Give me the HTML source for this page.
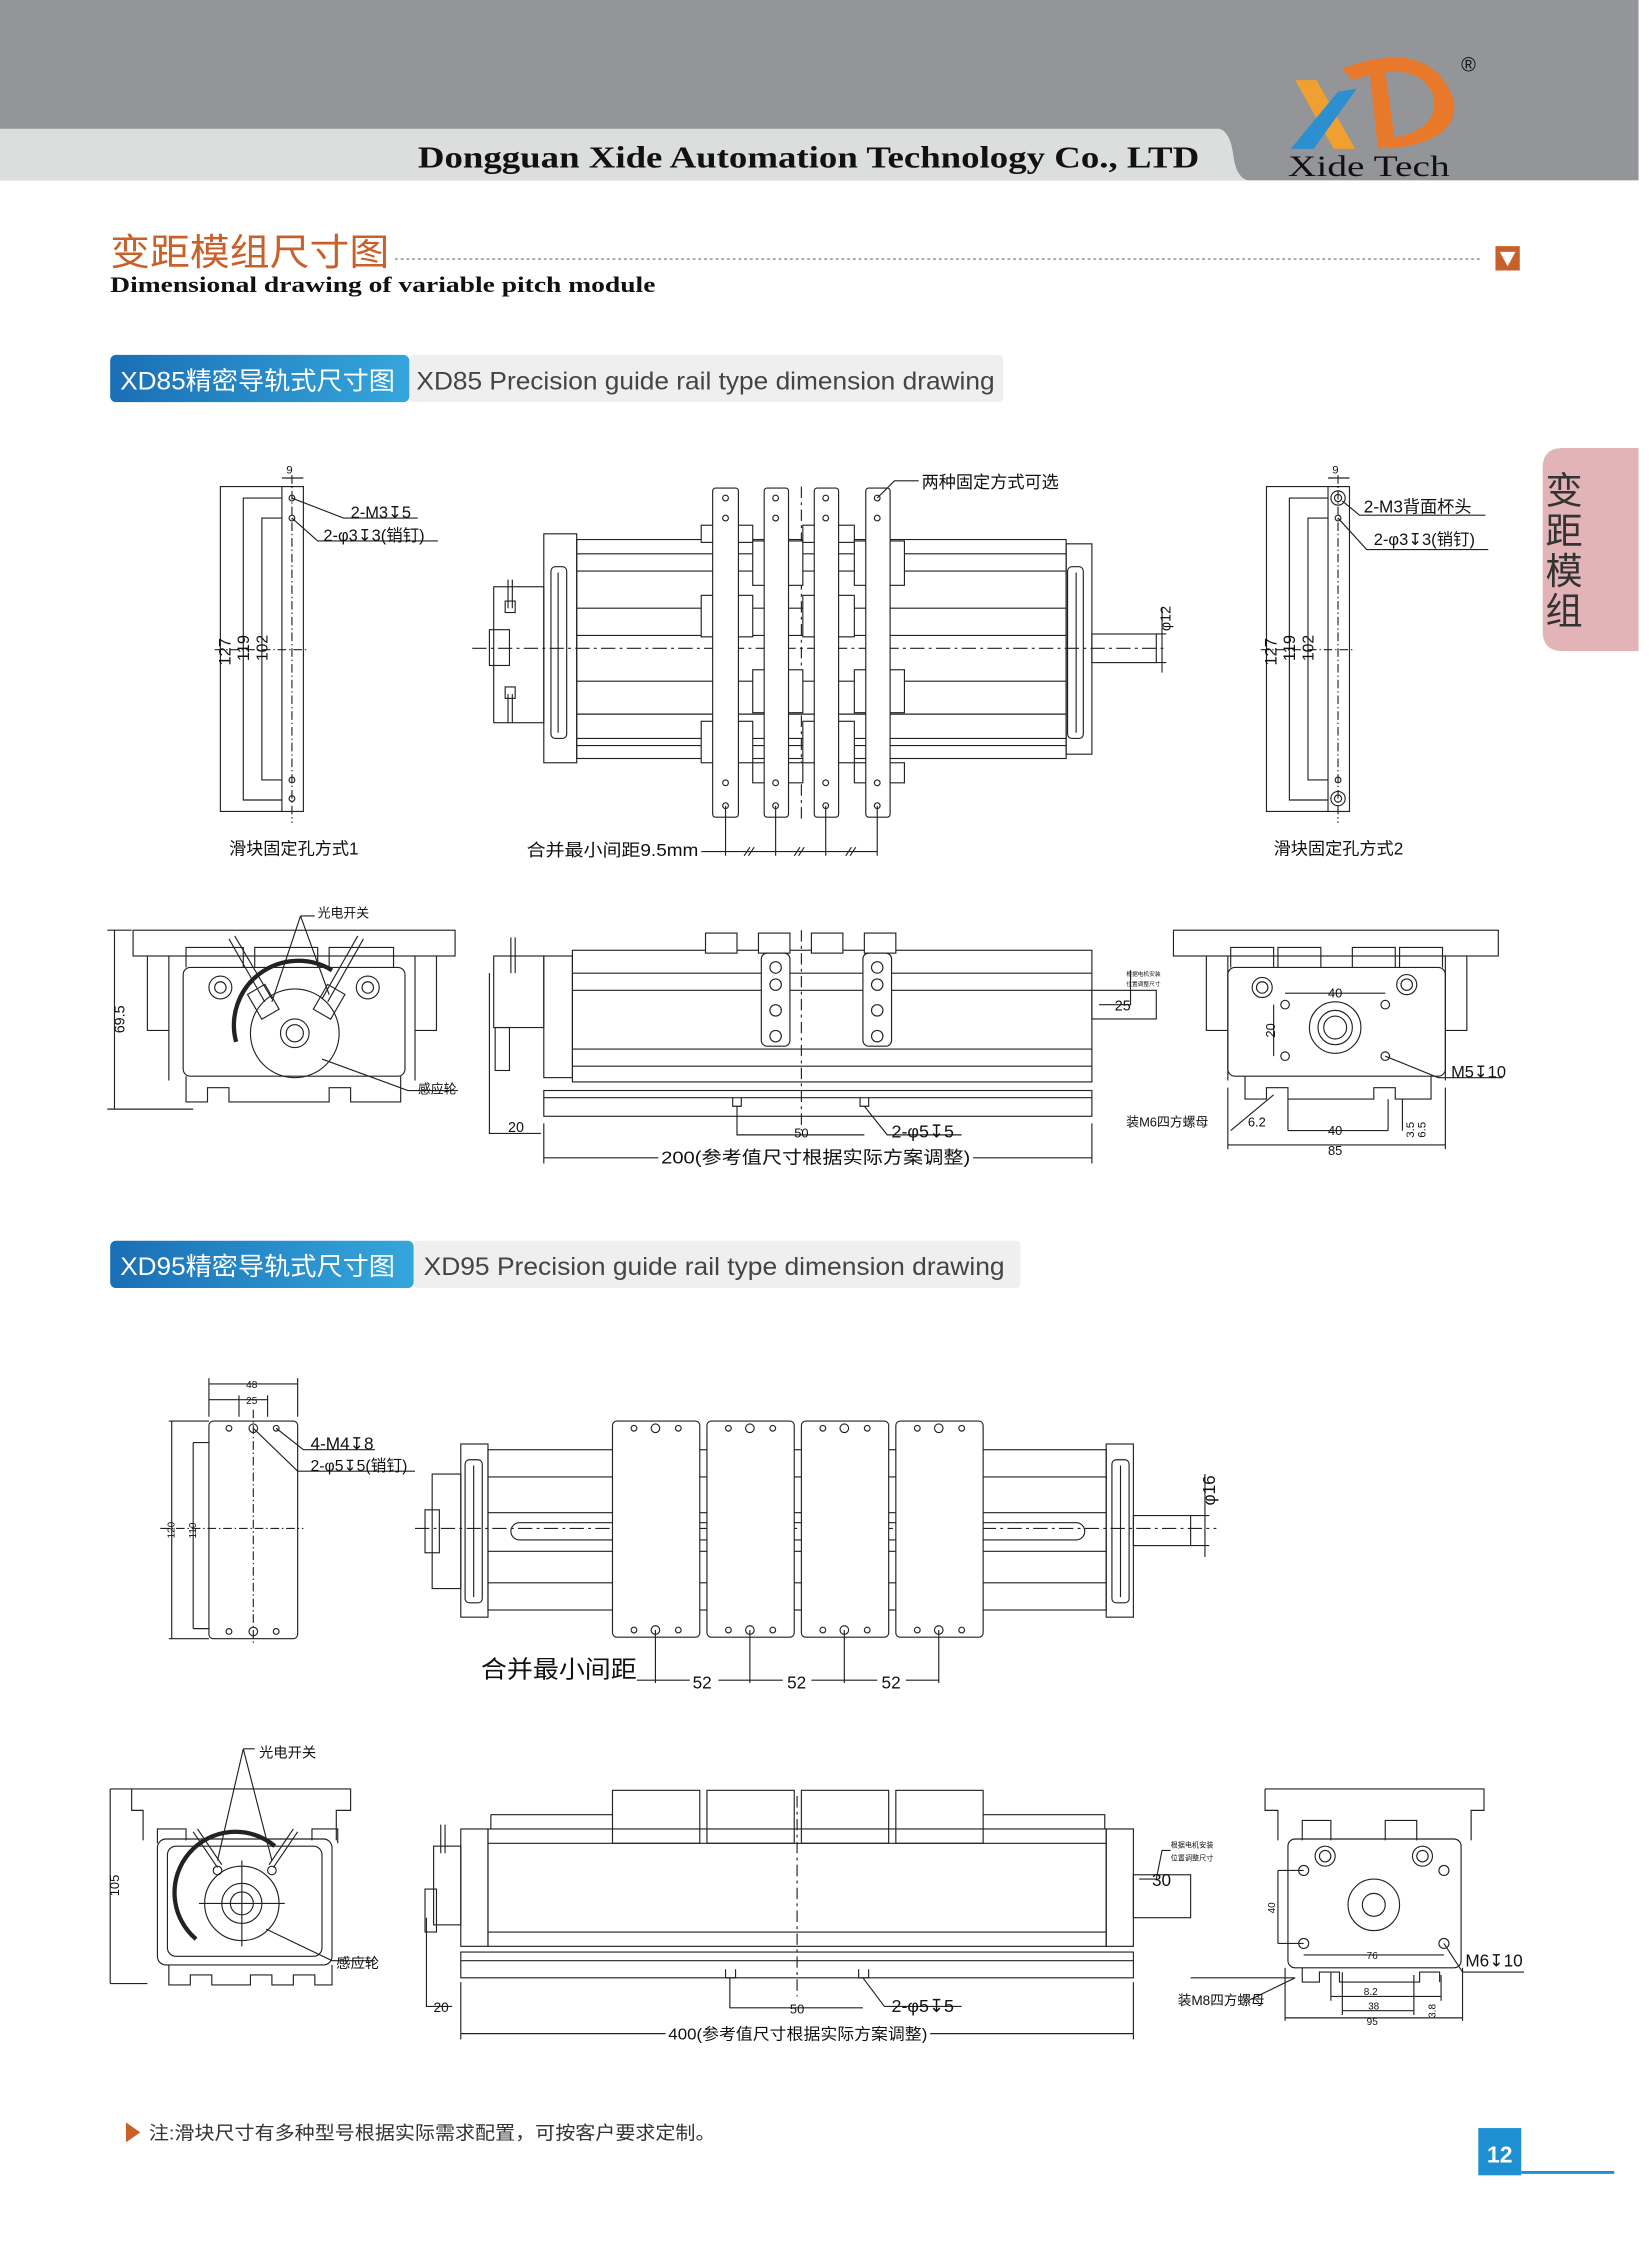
<!DOCTYPE html>
<html><head><meta charset="utf-8">
<style>
html,body{margin:0;padding:0;background:#fff;}
svg{display:block;}
text{font-family:"Liberation Sans","Noto Sans CJK SC",sans-serif;}
.s{font-family:"Liberation Serif","Noto Serif CJK SC",serif;}
</style></head>
<body>
<svg width="1650" height="2244" viewBox="0 0 1153 1568" preserveAspectRatio="none" xmlns="http://www.w3.org/2000/svg">
<defs>
<linearGradient id="bl" x1="0" y1="0" x2="1" y2="0"><stop offset="0" stop-color="#1a6fb5"/><stop offset="1" stop-color="#35a6dc"/></linearGradient>
</defs>
<rect width="1153" height="1568" fill="#fff"/>
<!-- header -->
<rect x="0" y="0" width="1145" height="126" fill="#939598"/>
<path d="M0 90 H852 Q860 92 862 110 Q864 124 872 126 H0 Z" fill="#dcdddd"/>
<text x="292" y="117" class="s" font-size="21.5" font-weight="bold" fill="#111" textLength="546" lengthAdjust="spacingAndGlyphs">Dongguan Xide Automation Technology Co., LTD</text>
<!-- logo -->
<path d="M938 48 Q1000 25 1016 70 Q1020 100 968 104 L975 96 Q1005 90 1002 68 Q992 40 945 56 Z" fill="#e8792a"/>
<path d="M957 50 L968 50 L975 100 L963 104 Z" fill="#e8792a"/>
<path d="M905 56 L920 56 L947 104 L932 104 Z" fill="#f0a030"/>
<path d="M935 64 L948 62 L918 104 L902 104 Z" fill="#2c8fd0"/>
<text x="900" y="123" class="s" font-size="21" fill="#111" textLength="113" lengthAdjust="spacingAndGlyphs">Xide  Tech</text>
<text x="1021" y="50" font-size="14" fill="#111">®</text>
<!-- title -->
<text x="77" y="185" font-size="26" fill="#c8602a" textLength="195" lengthAdjust="spacingAndGlyphs">变距模组尺寸图</text>
<line x1="276" y1="181" x2="1035" y2="181" stroke="#888" stroke-width="1" stroke-dasharray="2,2"/>
<rect x="1045" y="172" width="17" height="17" fill="#c8602a"/>
<path d="M1048 176 H1059 L1053.5 186 Z" fill="#fff"/>
<text x="77" y="204" class="s" font-size="15.5" font-weight="bold" fill="#111" textLength="381" lengthAdjust="spacingAndGlyphs">Dimensional drawing of variable pitch module</text>
<!-- tag 1 -->
<rect x="286" y="248" width="415" height="33" rx="3" fill="#efefef"/>
<rect x="77" y="248" width="209" height="33" rx="4" fill="url(#bl)"/>
<text x="84" y="272" font-size="17.5" fill="#fff" textLength="192" lengthAdjust="spacingAndGlyphs">XD85精密导轨式尺寸图</text>
<text x="291" y="272" font-size="17.5" fill="#444" textLength="404" lengthAdjust="spacingAndGlyphs">XD85 Precision guide rail type dimension drawing</text>
<!-- side tab -->
<path d="M1145 313 H1092 Q1078 313 1078 327 V441 Q1078 455 1092 455 H1145 Z" fill="#e3b4b7"/>
<g font-size="26" fill="#333"><text x="1080" y="352">变</text><text x="1080" y="380">距</text><text x="1080" y="408">模</text><text x="1080" y="436">组</text></g>

<g stroke="#222" stroke-width="0.8" fill="none">
<!-- ===== A1 left view ===== -->
<rect x="197" y="340" width="15" height="227"/>
<path d="M197 340 H154 V567 H197 M197 348 H170 V559 H197 M197 362 H183 V545 H197"/>
<line x1="204" y1="332" x2="204" y2="575" stroke-dasharray="6,2,1,2"/>
<line x1="150" y1="454" x2="215" y2="454" stroke-dasharray="6,2,1,2"/>
<circle cx="204" cy="348" r="2"/><circle cx="204" cy="362" r="2"/><circle cx="204" cy="545" r="2"/><circle cx="204" cy="558" r="2"/>
<path d="M197 334 H212 M204 348 L240 362 H292 M204 362 L222 378 H306"/>
<!-- A1 right view -->
<rect x="928" y="340" width="15" height="227"/>
<path d="M928 340 H885 V567 H928 M928 348 H901 V559 H928 M928 362 H914 V545 H928"/>
<line x1="935" y1="332" x2="935" y2="575" stroke-dasharray="6,2,1,2"/>
<line x1="881" y1="454" x2="946" y2="454" stroke-dasharray="6,2,1,2"/>
<circle cx="935" cy="348" r="5"/><circle cx="935" cy="348" r="2.5"/><circle cx="935" cy="362" r="2"/><circle cx="935" cy="545" r="2"/><circle cx="935" cy="558" r="5"/><circle cx="935" cy="558" r="2.5"/>
<path d="M928 334 H943 M938 350 L950 360 H1038 M935 362 L955 384 H1040"/>

<!-- ===== top main view XD85 ===== -->
<rect x="380" y="373" width="23" height="160"/>
<rect x="403" y="377" width="342" height="153"/>
<rect x="745" y="380" width="18" height="147"/>
<rect x="385" y="396" width="11" height="120" rx="3"/>
<rect x="746" y="396" width="11" height="120" rx="3"/>
<path d="M390 400 V512 M752 400 V512"/>
<path d="M403 387 H745 M403 399 H745 M403 425 H745 M403 444 H745 M403 476 H745 M403 499 H745 M403 516 H745 M403 521 H745"/>
<line x1="330" y1="453" x2="815" y2="453" stroke-dasharray="10,3,2,3"/>
<line x1="560" y1="340" x2="560" y2="575" stroke-dasharray="8,3,2,3"/>
<rect x="763" y="443" width="45" height="20"/>
<path d="M808 443 H815 M808 463 H815 M812 425 V470"/>
<rect x="345" y="410" width="35" height="95"/>
<rect x="342" y="440" width="14" height="25"/>
<path d="M355 405 V425 M358 405 V425 M355 485 V505 M358 485 V505"/>
<rect x="353" y="420" width="7" height="8"/><rect x="353" y="480" width="7" height="8"/>
<!-- sliders -->
<g fill="#fff">
<rect x="490" y="367" width="36" height="12"/><rect x="526" y="378" width="35" height="31"/><rect x="490" y="416" width="36" height="29"/><rect x="526" y="468" width="35" height="30"/><rect x="490" y="504" width="36" height="29"/><rect x="526" y="533" width="35" height="14"/>
<rect x="561" y="367" width="36" height="12"/><rect x="597" y="378" width="35" height="31"/><rect x="561" y="416" width="36" height="29"/><rect x="597" y="468" width="35" height="30"/><rect x="561" y="504" width="36" height="29"/><rect x="597" y="533" width="35" height="14"/>
<rect x="498" y="341" width="18" height="230" rx="2"/><rect x="534" y="341" width="17" height="230" rx="2"/><rect x="569" y="341" width="17" height="230" rx="2"/><rect x="605" y="341" width="17" height="230" rx="2"/>
</g>
<g>
<circle cx="507" cy="348" r="2"/><circle cx="507" cy="362" r="2"/><circle cx="507" cy="547" r="2"/><circle cx="507" cy="563" r="2"/>
<circle cx="542" cy="348" r="2"/><circle cx="542" cy="362" r="2"/><circle cx="542" cy="547" r="2"/><circle cx="542" cy="563" r="2"/>
<circle cx="577" cy="348" r="2"/><circle cx="577" cy="362" r="2"/><circle cx="577" cy="547" r="2"/><circle cx="577" cy="563" r="2"/>
<circle cx="613" cy="348" r="2"/><circle cx="613" cy="362" r="2"/><circle cx="613" cy="547" r="2"/><circle cx="613" cy="563" r="2"/>
</g>
<path d="M613 348 L625 336 H642"/>
<path d="M507 563 V598 M542 563 V598 M577 563 V598 M613 563 V598 M490 595 H613"/>
<path d="M520 598 L524 592 M523 598 L527 592 M555 598 L559 592 M558 598 L562 592 M591 598 L595 592 M594 598 L598 592"/>

<!-- ===== mid left end view ===== -->
<rect x="93" y="650" width="225" height="18"/>
<path d="M118 668 V755 M290 668 V755 M103 668 V720 H118 M305 668 V720 H290"/>
<rect x="128" y="676" width="155" height="76" rx="5"/>
<path d="M130 676 V662 H170 V676 M178 676 V662 H222 V676 M230 676 V662 H275 V676"/>
<path d="M130 752 V770 H145 V760 H160 V770 H230 V760 H245 V770 H280 V752"/>
<path d="M80 650 V775 M75 650 H92 M75 775 H135"/>
<circle cx="154" cy="690" r="8"/><circle cx="154" cy="690" r="4"/>
<circle cx="257" cy="690" r="8"/><circle cx="257" cy="690" r="4"/>
<circle cx="206" cy="722" r="31"/><circle cx="206" cy="722" r="10"/><circle cx="206" cy="722" r="6"/>
<path d="M165 728 A45 45 0 0 1 232 678" stroke-width="3"/>
<path d="M160 656 L185 700 M164 654 L190 698 M250 654 L225 698 M254 656 L229 700"/>
<rect x="177" y="690" width="14" height="20" transform="rotate(-30 184 700)"/>
<rect x="223" y="690" width="14" height="20" transform="rotate(30 230 700)"/>
<path d="M210 640 L190 700 M210 640 L230 695 M210 640 H220 M225 740 L285 762 H320"/>

<!-- ===== mid side view ===== -->
<rect x="380" y="668" width="20" height="85"/>
<rect x="400" y="664" width="363" height="92"/>
<path d="M400 680 H763 M400 692 H763 M400 733 H763 M400 745 H763"/>
<rect x="380" y="762" width="383" height="18"/>
<path d="M380 767 H763"/>
<rect x="763" y="692" width="45" height="20"/>
<rect x="345" y="668" width="35" height="50"/><rect x="346" y="718" width="10" height="30"/>
<path d="M357 655 V680 M360 655 V680"/>
<g fill="#fff">
<rect x="493" y="652" width="22" height="14"/><rect x="530" y="652" width="22" height="14"/><rect x="567" y="652" width="22" height="14"/><rect x="604" y="652" width="22" height="14"/>
<rect x="532" y="666" width="20" height="65" rx="4"/><rect x="603" y="666" width="20" height="65" rx="4"/>
</g>
<circle cx="542" cy="676" r="4"/><circle cx="542" cy="688" r="4"/><circle cx="542" cy="706" r="4"/><circle cx="542" cy="724" r="4"/>
<circle cx="613" cy="676" r="4"/><circle cx="613" cy="688" r="4"/><circle cx="613" cy="706" r="4"/><circle cx="613" cy="724" r="4"/>
<line x1="560" y1="650" x2="560" y2="790" stroke-dasharray="8,3,2,3"/>
<path d="M512 767 V773 H518 V767 M601 767 V773 H607 V767 M515 773 V793 H604 M604 773 L620 793 H672"/>
<path d="M342 680 V792 H378 M380 785 V813 M763 785 V813 M380 809 H460 M680 809 H763"/>
<path d="M768 702 H790 V678"/>
<!-- mid right end view -->
<rect x="820" y="650" width="227" height="18"/>
<path d="M858 668 V755 M1010 668 V755 M843 668 V720 H858 M1025 668 V720 H1010"/>
<rect x="858" y="676" width="152" height="76" rx="5"/>
<path d="M860 676 V662 H890 V676 M893 676 V662 H923 V676 M945 676 V662 H975 V676 M978 676 V662 H1008 V676"/>
<path d="M870 752 V768 H885 V760 H900 V768 H960 V760 H975 V768 H1000 V752"/>
<circle cx="882" cy="690" r="7"/><circle cx="882" cy="690" r="4"/><circle cx="983" cy="688" r="7"/><circle cx="983" cy="688" r="4"/>
<circle cx="933" cy="718" r="18"/><circle cx="933" cy="718" r="12"/><circle cx="933" cy="718" r="8"/>
<circle cx="898" cy="702" r="3"/><circle cx="968" cy="702" r="3"/><circle cx="898" cy="738" r="3"/><circle cx="968" cy="738" r="3"/>
<path d="M898 694 H968 M890 702 V738 M968 738 L1005 753 H1050 M860 790 L890 765 M900 768 V790 M970 768 V790 M900 790 H970 M858 760 V803 M1010 760 V803 M858 800 H1010 M980 768 V790"/>

<!-- ===== bottom left small view ===== -->
<rect x="146" y="993" width="62" height="152" rx="3"/>
<path d="M118 993 H146 M118 1145 H146 M120 993 V1145 M135 1008 H146 M135 1138 H146 M135 1008 V1138 M146 967 H208 M146 978 H187 M146 963 V990 M208 963 V990 M167 975 V990 M187 975 V990"/>
<line x1="177" y1="985" x2="177" y2="1150" stroke-dasharray="6,2,1,2"/>
<line x1="112" y1="1068" x2="212" y2="1068" stroke-dasharray="6,2,1,2"/>
<circle cx="160" cy="998" r="2"/><circle cx="177" cy="998" r="3"/><circle cx="193" cy="998" r="2"/>
<circle cx="160" cy="1140" r="2"/><circle cx="177" cy="1140" r="3"/><circle cx="193" cy="1140" r="2"/>
<path d="M193 998 L212 1013 H262 M177 998 L208 1028 H290"/>

<!-- bottom main top view -->
<rect x="322" y="1009" width="19" height="121"/>
<rect x="341" y="1013" width="432" height="112"/>
<rect x="773" y="1009" width="19" height="121"/>
<path d="M341 1032 H773 M341 1057 H773 M341 1084 H773 M341 1106 H773"/>
<rect x="357" y="1064" width="401" height="12" rx="6"/>
<rect x="325" y="1020" width="12" height="100" rx="3"/><rect x="777" y="1020" width="12" height="100" rx="3"/>
<path d="M331 1024 V1116 M783 1024 V1116"/>
<rect x="792" y="1059" width="40" height="21"/>
<path d="M832 1059 H845 M832 1080 H845 M842 1030 V1088"/>
<rect x="302" y="1030" width="20" height="80"/><rect x="297" y="1055" width="10" height="30"/>
<line x1="290" y1="1068" x2="850" y2="1068" stroke-dasharray="10,3,2,3"/>
<g fill="#fff">
<rect x="428" y="993" width="61" height="151" rx="3"/><rect x="494" y="993" width="61" height="151" rx="3"/><rect x="560" y="993" width="61" height="151" rx="3"/><rect x="626" y="993" width="61" height="151" rx="3"/>
</g>
<g>
<circle cx="443" cy="998" r="2"/><circle cx="458" cy="998" r="3"/><circle cx="474" cy="998" r="2"/><circle cx="443" cy="1139" r="2"/><circle cx="458" cy="1139" r="3"/><circle cx="474" cy="1139" r="2"/>
<circle cx="509" cy="998" r="2"/><circle cx="524" cy="998" r="3"/><circle cx="540" cy="998" r="2"/><circle cx="509" cy="1139" r="2"/><circle cx="524" cy="1139" r="3"/><circle cx="540" cy="1139" r="2"/>
<circle cx="575" cy="998" r="2"/><circle cx="590" cy="998" r="3"/><circle cx="606" cy="998" r="2"/><circle cx="575" cy="1139" r="2"/><circle cx="590" cy="1139" r="3"/><circle cx="606" cy="1139" r="2"/>
<circle cx="641" cy="998" r="2"/><circle cx="656" cy="998" r="3"/><circle cx="672" cy="998" r="2"/><circle cx="641" cy="1139" r="2"/><circle cx="656" cy="1139" r="3"/><circle cx="672" cy="1139" r="2"/>
</g>
<path d="M458 1139 V1176 M524 1139 V1176 M590 1139 V1176 M656 1139 V1176 M445 1174 H482 M502 1174 H547 M567 1174 H613 M633 1174 H656"/>

<!-- bottom left end view -->
<path d="M77 1250 H245 V1265 H235 V1286 M77 1250 V1386 M92 1250 V1265 H100 V1286"/>
<path d="M77 1386 H103 M130 1286 V1278 H110 V1288 M218 1286 V1278 H236 V1288"/>
<rect x="110" y="1285" width="122" height="88" rx="6"/>
<rect x="117" y="1290" width="108" height="77" rx="6"/>
<path d="M118 1373 V1387 H133 V1380 H148 V1387 H175 V1380 H190 V1387 H205 V1380 H220 V1387 H232 V1373"/>
<circle cx="169" cy="1330" r="26"/><circle cx="169" cy="1330" r="14"/><circle cx="169" cy="1330" r="8"/>
<path d="M137 1355 A42 42 0 0 1 192 1290" stroke-width="3"/>
<path d="M169 1300 V1360 M139 1330 H199"/>
<path d="M135 1280 L152 1305 M138 1278 L155 1303 M205 1278 L188 1303 M208 1280 L191 1305"/>
<circle cx="152" cy="1307" r="3"/><circle cx="190" cy="1307" r="3"/>
<path d="M170 1222 H178 M170 1222 L152 1300 M170 1222 L190 1300 M186 1348 L232 1370 H262"/>

<!-- bottom side view -->
<g fill="#fff"><rect x="428" y="1251" width="61" height="37"/><rect x="494" y="1251" width="61" height="37"/><rect x="560" y="1251" width="61" height="37"/><rect x="626" y="1251" width="61" height="37"/></g>
<path d="M343 1268 H428 M343 1268 V1278 M687 1268 H772 V1278"/>
<rect x="322" y="1278" width="19" height="82"/>
<rect x="341" y="1278" width="432" height="82"/>
<rect x="773" y="1278" width="19" height="82"/>
<path d="M341 1288 H773 M341 1350 H773"/>
<rect x="322" y="1364" width="470" height="18"/>
<path d="M322 1370 H792"/>
<rect x="792" y="1310" width="40" height="30"/>
<rect x="303" y="1290" width="19" height="55"/><rect x="297" y="1320" width="8" height="30"/>
<path d="M308 1275 V1295 M311 1275 V1295"/>
<line x1="557" y1="1255" x2="557" y2="1395" stroke-dasharray="8,3,2,3"/>
<path d="M507 1376 V1382 H514 V1376 M600 1376 V1382 H607 V1376 M510 1382 V1403 H603 M603 1382 L618 1402 H672"/>
<path d="M298 1340 V1402 H316 M322 1385 V1425 M792 1385 V1425 M322 1421 H465 M650 1421 H792 M796 1313 H808 L812 1293 H818"/>

<!-- bottom right end view -->
<path d="M884 1250 H1037 V1265 H1028 V1286 M884 1250 V1265 H893 V1286 M910 1286 V1272 H930 V1286 M968 1286 V1272 H990 V1286"/>
<rect x="900" y="1285" width="121" height="90" rx="5"/>
<circle cx="926" cy="1297" r="7"/><circle cx="926" cy="1297" r="4"/><circle cx="994" cy="1297" r="7"/><circle cx="994" cy="1297" r="4"/>
<circle cx="960" cy="1331" r="18"/><circle cx="960" cy="1331" r="8"/>
<circle cx="911" cy="1307" r="3.5"/><circle cx="1009" cy="1307" r="3.5"/><circle cx="911" cy="1358" r="3.5"/><circle cx="1009" cy="1358" r="3.5"/>
<path d="M893 1307 H911 M893 1358 H911 M893 1307 V1358 M911 1366 H1009 M1009 1358 L1022 1378 H1065"/>
<path d="M910 1375 V1385 H922 V1378 H936 V1385 H992 V1378 H1006 V1385 M930 1378 V1398 M1007 1380 V1398 M930 1395 H1007 M938 1378 V1408 M988 1380 V1408 M938 1405 H988 M898 1375 V1412 M1022 1375 V1412 M898 1410 H1022 M872 1398 L905 1382 H832"/>
</g>

<!-- labels -->
<g fill="#111" font-size="11.5">
<text x="200" y="331" font-size="8">9</text>
<text x="245" y="362">2-M3↧5</text>
<text x="226" y="378">2-φ3↧3(销钉)</text>
<text transform="translate(161 465) rotate(-90)" font-size="11.5">127</text>
<text transform="translate(174 462) rotate(-90)" font-size="11.5">119</text>
<text transform="translate(187 462) rotate(-90)" font-size="11">102</text>
<text x="160" y="597" font-size="12">滑块固定孔方式1</text>
<text x="644" y="341" font-size="12">两种固定方式可选</text>
<text transform="translate(818 441) rotate(-90)" font-size="10">φ12</text>
<text x="368" y="598" font-size="12" textLength="120" lengthAdjust="spacingAndGlyphs">合并最小间距9.5mm</text>
<text x="931" y="331" font-size="8">9</text>
<text x="953" y="358" font-size="12">2-M3背面杯头</text>
<text x="960" y="381">2-φ3↧3(销钉)</text>
<text transform="translate(892 465) rotate(-90)" font-size="11.5">127</text>
<text transform="translate(905 462) rotate(-90)" font-size="11.5">119</text>
<text transform="translate(918 462) rotate(-90)" font-size="11">102</text>
<text x="890" y="597" font-size="12">滑块固定孔方式2</text>
<text x="222" y="641" font-size="9">光电开关</text>
<text x="292" y="764" font-size="9">感应轮</text>
<text transform="translate(87 722) rotate(-90)" font-size="10">69.5</text>
<text x="355" y="791" font-size="10">20</text>
<text x="555" y="795" font-size="9">50</text>
<text x="623" y="795" font-size="12.5">2-φ5↧5</text>
<text x="462" y="813" font-size="12.5" textLength="216" lengthAdjust="spacingAndGlyphs">200(参考值尺寸根据实际方案调整)</text>
<text x="779" y="706" font-size="10">25</text>
<text x="787" y="682" font-size="4">根据电机安装</text>
<text x="787" y="689" font-size="4">位置调整尺寸</text>
<text x="928" y="697" font-size="9">40</text>
<text transform="translate(891 725) rotate(-90)" font-size="9">20</text>
<text x="1014" y="753" font-size="11.5">M5↧10</text>
<text x="787" y="787" font-size="9">装M6四方螺母</text>
<text x="872" y="787" font-size="9">6.2</text>
<text x="928" y="793" font-size="9">40</text>
<text x="928" y="807" font-size="9">85</text>
<text transform="translate(988 795) rotate(-90)" font-size="8">3.5</text>
<text transform="translate(996 795) rotate(-90)" font-size="8">6.5</text>
</g>

<!-- tag 2 -->
<rect x="289" y="867" width="424" height="33" rx="3" fill="#efefef"/>
<rect x="77" y="867" width="212" height="33" rx="4" fill="url(#bl)"/>
<text x="84" y="891" font-size="17.5" fill="#fff" textLength="192" lengthAdjust="spacingAndGlyphs">XD95精密导轨式尺寸图</text>
<text x="296" y="891" font-size="17.5" fill="#444" textLength="406" lengthAdjust="spacingAndGlyphs">XD95 Precision guide rail type dimension drawing</text>

<g fill="#111" font-size="11.5">
<text x="172" y="970" font-size="7">48</text>
<text x="172" y="981" font-size="7">25</text>
<text transform="translate(122 1075) rotate(-90)" font-size="7">120</text>
<text transform="translate(137 1075) rotate(-90)" font-size="7">110</text>
<text x="217" y="1013" font-size="12">4-M4↧8</text>
<text x="217" y="1028" font-size="11">2-φ5↧5(销钉)</text>
<text transform="translate(849 1052) rotate(-90)" font-size="12">φ16</text>
<text x="336" y="1172" font-size="16.5" textLength="109" lengthAdjust="spacingAndGlyphs">合并最小间距</text>
<text x="484" y="1180" font-size="12">52</text>
<text x="550" y="1180" font-size="12">52</text>
<text x="616" y="1180" font-size="12">52</text>
<text x="181" y="1228" font-size="10">光电开关</text>
<text x="235" y="1375" font-size="10">感应轮</text>
<text transform="translate(83 1325) rotate(-90)" font-size="9">105</text>
<text x="303" y="1406" font-size="9.5">20</text>
<text x="552" y="1407" font-size="9">50</text>
<text x="623" y="1406" font-size="12.5">2-φ5↧5</text>
<text x="467" y="1425" font-size="11" textLength="181" lengthAdjust="spacingAndGlyphs">400(参考值尺寸根据实际方案调整)</text>
<text x="805" y="1318" font-size="12">30</text>
<text x="818" y="1291" font-size="5">根据电机安装</text>
<text x="818" y="1300" font-size="5">位置调整尺寸</text>
<text transform="translate(891 1337) rotate(-90)" font-size="7">40</text>
<text x="955" y="1369" font-size="7">76</text>
<text x="1024" y="1374" font-size="12">M6↧10</text>
<text x="823" y="1401" font-size="9.5">装M8四方螺母</text>
<text x="953" y="1394" font-size="7">8.2</text>
<text x="956" y="1404" font-size="7">38</text>
<text x="955" y="1415" font-size="7">95</text>
<text transform="translate(1003 1410) rotate(-90)" font-size="7">3.8</text>
</g>

<!-- footer -->
<path d="M88 1483 L98 1490 L88 1497 Z" fill="#c8602a"/>
<text x="104" y="1495" font-size="13" fill="#333" textLength="396" lengthAdjust="spacingAndGlyphs">注:滑块尺寸有多种型号根据实际需求配置，可按客户要求定制。</text>
<rect x="1033" y="1487" width="30" height="33" fill="#1e8fd0"/>
<text x="1048" y="1511" font-size="16" font-weight="bold" fill="#fff" text-anchor="middle">12</text>
<rect x="1063" y="1517" width="65" height="2" fill="#1e8fd0"/>
</svg>
</body></html>
